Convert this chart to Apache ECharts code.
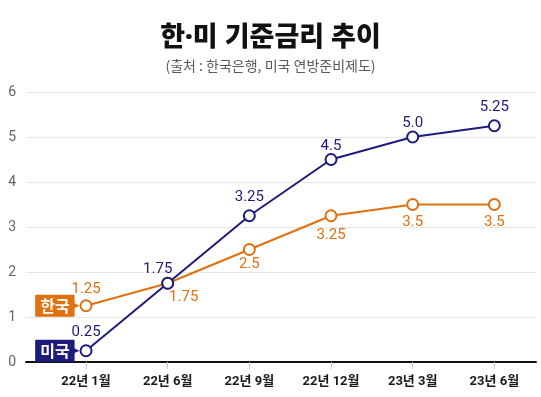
<!DOCTYPE html>
<html><head><meta charset="utf-8">
<script src="https://cdn.jsdelivr.net/npm/echarts@6/dist/echarts.min.js"></script>
<style>html,body{margin:0;padding:0;background:#fff}#c{width:541px;height:397px}</style>
</head><body><div id="c"></div>
<script>
const categories = ['22년 1월', '22년 6월', '22년 9월', '22년 12월', '23년 3월', '23년 6월'];
const koreaRates = [1.25, 1.75, 2.5, 3.25, 3.5, 3.5];
const usRates = [0.25, 1.75, 3.25, 4.5, 5.0, 5.25];
const koreaLabels = ['1.25', '1.75', '2.5', '3.25', '3.5', '3.5'];
const usLabels = ['0.25', '1.75', '3.25', '4.5', '5.0', '5.25'];
const yTicks = [0, 1, 2, 3, 4, 5, 6];
const seriesNames = ['한국', '미국'];

const ORANGE = '#e2700e';
const NAVY = '#1d1b7b';
const NARROW = "Roboto, 'Noto Sans CJK KR', sans-serif";
const idx = categories.map((_, i) => i);

const usLabelPos = [
  { position: 'top', offset: [0, 0] },
  { position: 'top', offset: [-10, 4] },
  { position: 'top', offset: [0, 0] },
  { position: 'top', offset: [0, 5] },
  { position: 'top', offset: [0, 4] },
  { position: 'top', offset: [0, 0] }
];
const krLabelPos = [
  { position: 'top', offset: [0, 2] },
  { position: 'bottom', offset: [16, -4] },
  { position: 'bottom', offset: [0, -3] },
  { position: 'bottom', offset: [0, 1] },
  { position: 'bottom', offset: [0, 0] },
  { position: 'bottom', offset: [0, 0] }
];

function mkData(vals, labels, pos) {
  return vals.map((v, i) => ({
    value: [idx[i], v],
    label: Object.assign({ formatter: labels[i] }, pos[i])
  }));
}

function badge(name, val, color) {
  return {
    type: 'line',
    data: [[idx[0], val]],
    symbol: 'circle',
    symbolSize: 11,
    showSymbol: true,
    lineStyle: { width: 0 },
    itemStyle: { color: 'rgba(0,0,0,0)', borderWidth: 0 },
    silent: true,
    z: 5,
    label: {
      show: true,
      position: 'left',
      distance: 1,
      formatter: '{b|' + name + '}{a|▶}',
      rich: {
        b: {
          backgroundColor: color, color: '#fff', fontWeight: 'bold', fontSize: 16,
          fontFamily: "'Noto Sans CJK KR', sans-serif",
          padding: [3, 5, 3, 5], borderRadius: 1, lineHeight: 19
        },
        a: { color: color, fontSize: 9, padding: [0, 0, 0, -2], fontFamily: "'DejaVu Sans', sans-serif" }
      }
    }
  };
}

const chart = echarts.init(document.getElementById('c'), null, { renderer: 'canvas' });
chart.setOption({
  backgroundColor: '#fff',
  animation: false,
  title: {
    text: '한·미 기준금리 추이',
    subtext: '(출처 : 한국은행, 미국 연방준비제도)',
    left: 'center',
    top: 18,
    itemGap: 5,
    textStyle: { fontSize: 27, fontWeight: 900, color: '#111', lineHeight: 30, fontFamily: "'Noto Sans', 'Noto Sans CJK KR', sans-serif" },
    subtextStyle: { fontSize: 14, color: '#5a5a5a', lineHeight: 16, fontFamily: "'Noto Sans CJK KR', sans-serif" }
  },
  grid: { left: 26, right: 5, top: 92, bottom: 35 },
  xAxis: {
    type: 'value',
    min: -0.735,
    max: 5.51,
    axisLine: { show: true, onZero: false, lineStyle: { color: '#111', width: 2 } },
    axisTick: { show: true, customValues: idx, length: 7, lineStyle: { color: '#c8c8c8' } },
    axisLabel: {
      customValues: idx,
      formatter: v => categories[Math.round(v)],
      color: '#1a1a1a', fontSize: 13, fontWeight: 'bold', margin: 13,
      fontFamily: NARROW
    },
    splitLine: { show: false }
  },
  yAxis: {
    type: 'value',
    min: yTicks[0],
    max: yTicks[yTicks.length - 1],
    interval: 1,
    axisLine: { show: false },
    axisTick: { show: false },
    axisLabel: { color: '#666', fontSize: 14, margin: 10, fontFamily: NARROW },
    splitLine: { lineStyle: { color: '#e6e6e6', width: 1 } }
  },
  series: [
    {
      name: seriesNames[0], type: 'line',
      data: mkData(koreaRates, koreaLabels, krLabelPos),
      symbol: 'circle', symbolSize: 11,
      lineStyle: { color: ORANGE, width: 2 },
      itemStyle: { color: '#fff', borderColor: ORANGE, borderWidth: 2 },
      label: { show: true, color: ORANGE, fontSize: 15, fontFamily: NARROW, distance: 4 },
      z: 3
    },
    {
      name: seriesNames[1], type: 'line',
      data: mkData(usRates, usLabels, usLabelPos),
      symbol: 'circle', symbolSize: 11,
      lineStyle: { color: NAVY, width: 2 },
      itemStyle: { color: '#fff', borderColor: NAVY, borderWidth: 2 },
      label: { show: true, color: NAVY, fontSize: 15, fontFamily: NARROW, distance: 4 },
      z: 4
    },
    badge(seriesNames[0], koreaRates[0], ORANGE),
    badge(seriesNames[1], usRates[0], NAVY)
  ]
});
</script>
</body></html>
